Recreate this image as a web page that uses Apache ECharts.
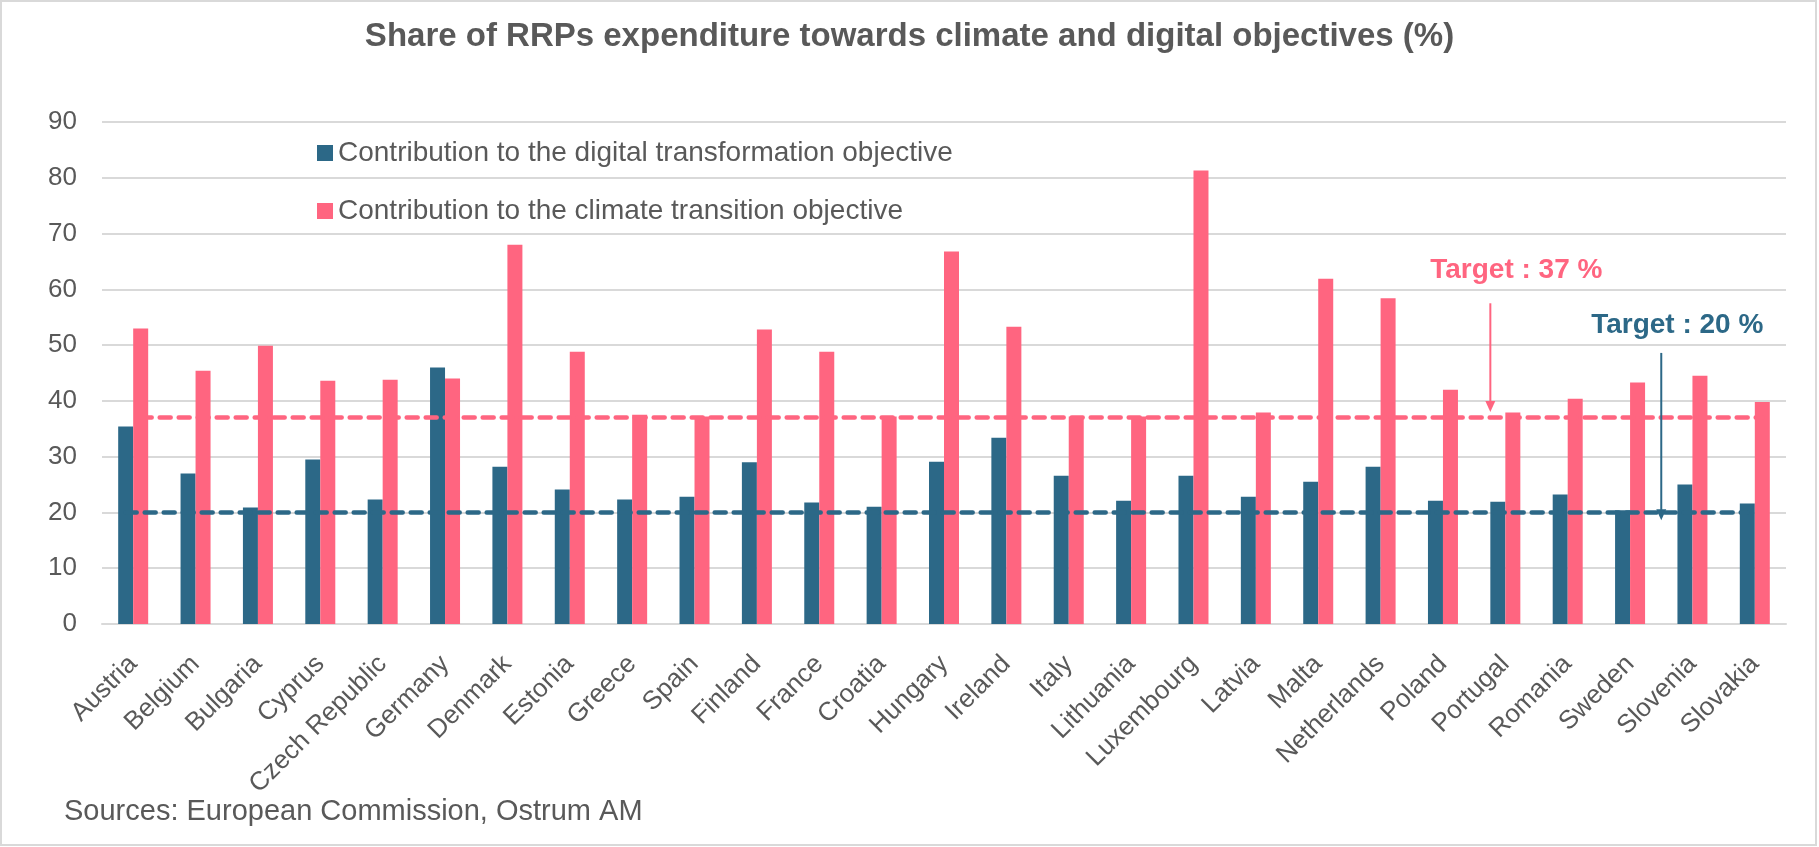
<!DOCTYPE html>
<html>
<head>
<meta charset="utf-8">
<script src="https://cdn.jsdelivr.net/npm/echarts@6/dist/echarts.min.js"></script>
<style>
html, body { margin: 0; padding: 0; background: #fff; }
#chart { width: 1819px; height: 847px; }
</style>
</head>
<body>
<div id="chart"></div>
<script>
// data
var countries = ['Austria', 'Belgium', 'Bulgaria', 'Cyprus', 'Czech Republic', 'Germany', 'Denmark',
    'Estonia', 'Greece', 'Spain', 'Finland', 'France', 'Croatia', 'Hungary', 'Ireland', 'Italy',
    'Lithuania', 'Luxembourg', 'Latvia', 'Malta', 'Netherlands', 'Poland', 'Portugal', 'Romania',
    'Sweden', 'Slovenia', 'Slovakia'];
var digital = [35.4, 27.0, 20.9, 29.5, 22.3, 46.0, 28.2, 24.1, 22.3, 22.8, 29.0, 21.8, 21.0, 29.1,
    33.4, 26.6, 22.1, 26.6, 22.8, 25.5, 28.2, 22.1, 21.9, 23.2, 20.4, 25.0, 21.6];
var climate = [53.0, 45.4, 49.9, 43.6, 43.8, 44.0, 68.0, 48.8, 37.5, 37.2, 52.8, 48.8, 37.2, 66.8,
    53.3, 37.2, 37.2, 81.3, 37.9, 61.9, 58.4, 42.0, 37.9, 40.4, 43.3, 44.5, 39.8];
var digitalTarget = 20;
var climateTarget = 37;
var yMin = 0, yMax = 90, yStep = 10;

var digitalName = 'Contribution to the digital transformation objective';
var climateName = 'Contribution to the climate transition objective';

var blue = '#2c6887';
var pink = '#ff6580';
var grey = '#595959';
var lightGrey = '#d9d9d9';
var font = 'Liberation Sans, Arial, sans-serif';

var myChart = echarts.init(document.getElementById('chart'));

function targetLine(value, color) {
    return {
        symbol: ['none', 'none'],
        silent: true,
        label: { show: false },
        lineStyle: { color: color, width: 4.5, type: [11, 8], cap: 'round' },
        data: [[{ coord: [0, value] }, { coord: [countries.length - 1, value] }]]
    };
}

var option = {
    animation: false,
    backgroundColor: '#fff',
    textStyle: { fontFamily: font },
    title: {
        text: 'Share of RRPs expenditure towards climate and digital objectives (%)',
        left: 'center',
        top: 20,
        padding: 0,
        textStyle: { fontSize: 33, fontWeight: 'bold', color: grey, fontFamily: font }
    },
    legend: {
        data: [digitalName, climateName],
        orient: 'vertical',
        left: 317,
        top: 139,
        padding: 0,
        itemGap: 30,
        itemWidth: 16,
        itemHeight: 16,
        icon: 'rect',
        selectedMode: false,
        textStyle: { fontSize: 28, color: grey, fontFamily: font }
    },
    grid: { left: 102, right: 33, top: 122, bottom: 223 },
    xAxis: {
        type: 'category',
        data: countries,
        axisLine: { lineStyle: { color: lightGrey, width: 2 } },
        axisTick: { show: false },
        axisLabel: { interval: 0, rotate: 45, fontSize: 26, color: grey, margin: 36, fontFamily: font }
    },
    yAxis: {
        type: 'value',
        min: yMin,
        max: yMax,
        interval: yStep,
        axisLine: { show: false },
        axisTick: { show: false },
        axisLabel: { fontSize: 26, color: grey, margin: 25, fontFamily: font },
        splitLine: { lineStyle: { color: lightGrey, width: 2 } }
    },
    series: [
        {
            name: digitalName,
            type: 'bar',
            data: digital,
            barWidth: 15,
            barGap: '0%',
            itemStyle: { color: blue },
            markLine: targetLine(digitalTarget, blue)
        },
        {
            name: climateName,
            type: 'bar',
            data: climate,
            barWidth: 15,
            barGap: '0%',
            itemStyle: { color: pink },
            z: 3,
            markLine: targetLine(climateTarget, pink)
        }
    ]
};

myChart.setOption(option);

// annotations placed through the chart's own scales
function px(cat, val) {
    return myChart.convertToPixel({ seriesIndex: 0 }, [cat, val]);
}

function arrow(x, yStart, yEnd, color) {
    return [
        { type: 'line', z: 20, shape: { x1: x, y1: yStart, x2: x, y2: yEnd - 8 },
          style: { stroke: color, lineWidth: 2 } },
        { type: 'polygon', z: 20, shape: { points: [[x - 5, yEnd - 11], [x + 5, yEnd - 11], [x, yEnd]] },
          style: { fill: color } }
    ];
}

function label(text, x, y, color) {
    return {
        type: 'text', z: 20, x: x, y: y,
        style: { text: text, fill: color, font: 'bold 28px ' + font, align: 'center', verticalAlign: 'middle' }
    };
}

var portugal = countries.indexOf('Portugal');
var sweden = countries.indexOf('Sweden');
var slovenia = countries.indexOf('Slovenia');

var pinkX = px(portugal, 0)[0] - 15;
var blueX = (px(sweden, 0)[0] + px(slovenia, 0)[0]) / 2;

var graphics = [
    { type: 'rect', z: 0, shape: { x: 1, y: 1, width: 1815, height: 844 },
      style: { fill: null, stroke: lightGrey, lineWidth: 2 } },
    { type: 'text', left: 64, top: 797,
      style: { text: 'Sources: European Commission, Ostrum AM', fill: grey, font: '29px ' + font } },
    label('Target : 37 %', pinkX + 26, px(portugal, 63.5)[1], pink),
    label('Target : 20 %', blueX + 16, px(sweden, 53.5)[1], blue)
]
    .concat(arrow(pinkX, px(portugal, 57.5)[1], px(portugal, 38)[1], pink))
    .concat(arrow(blueX, px(sweden, 48.6)[1], px(sweden, 18.6)[1], blue));

myChart.setOption({ graphic: graphics });
</script>
</body>
</html>
